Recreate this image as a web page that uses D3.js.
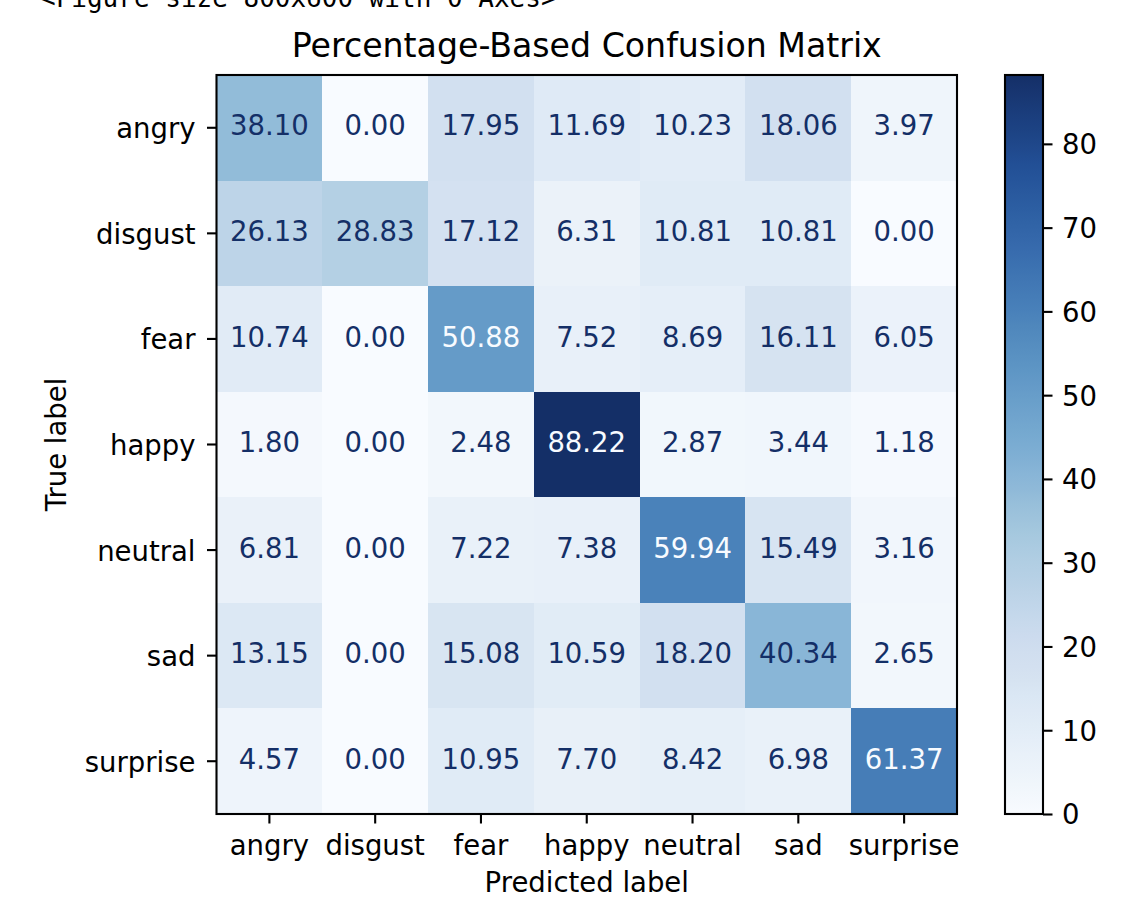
<!DOCTYPE html>
<html>
<head>
<meta charset="utf-8">
<script src="https://cdn.jsdelivr.net/npm/d3@7"></script>
<style>
  html, body { margin: 0; padding: 0; background: #fff; }
  svg { display: block; font-family: "DejaVu Sans", sans-serif; }
</style>
</head>
<body>
<script>
// classes, in the order they appear on both axes
const labels = ["angry", "disgust", "fear", "happy", "neutral", "sad", "surprise"];

// rows = true label, columns = predicted label (percent)
const angry    = [38.10,  0.00, 17.95, 11.69, 10.23, 18.06,  3.97];
const disgust  = [26.13, 28.83, 17.12,  6.31, 10.81, 10.81,  0.00];
const fear     = [10.74,  0.00, 50.88,  7.52,  8.69, 16.11,  6.05];
const happy    = [ 1.80,  0.00,  2.48, 88.22,  2.87,  3.44,  1.18];
const neutral  = [ 6.81,  0.00,  7.22,  7.38, 59.94, 15.49,  3.16];
const sad      = [13.15,  0.00, 15.08, 10.59, 18.20, 40.34,  2.65];
const surprise = [ 4.57,  0.00, 10.95,  7.70,  8.42,  6.98, 61.37];

const colorbarTicks = [0, 10, 20, 30, 40, 50, 60, 70, 80];

// matplotlib "Blues" anchors (linear segmented)
const blues = ["#f7fbff", "#deebf7", "#c6dbef", "#9ecae1", "#6baed6",
               "#4292c6", "#2171b5", "#08519c", "#08306b"];

const matrix = [angry, disgust, fear, happy, neutral, sad, surprise];

const width = 1132, height = 920;
const margin = { top: 75, left: 216.5, right: 957, bottom: 814 };
const fs = 27.5;

// the reference screenshot went through a colour-profile shift (sRGB values
// re-encoded as Display P3), which mutes the colours a little; mimic that
function shift(c) {
  const rgb = d3.rgb(c);
  const lin = v => { v /= 255; return v <= 0.04045 ? v / 12.92 : Math.pow((v + 0.055) / 1.055, 2.4); };
  const enc = v => 255 * (v <= 0.0031308 ? 12.92 * v : 1.055 * Math.pow(v, 1 / 2.4) - 0.055);
  const r = lin(rgb.r), g = lin(rgb.g), b = lin(rgb.b);
  return d3.rgb(
    enc(0.8225 * r + 0.1774 * g),
    enc(0.0332 * r + 0.9669 * g),
    enc(0.0171 * r + 0.0724 * g + 0.9108 * b)
  ).formatHex();
}

const cells = [];
matrix.forEach((row, i) => row.forEach((v, j) => cells.push({ t: labels[i], p: labels[j], v })));

const vmin = d3.min(cells, d => d.v);
const vmax = d3.max(cells, d => d.v);

const cmapRaw = d3.scaleLinear()
  .domain(blues.map((_, i) => i / (blues.length - 1)))
  .range(blues)
  .interpolate(d3.interpolateRgb)
  .clamp(true);
const cmap = t => shift(cmapRaw(t));
const color = v => cmap((v - vmin) / (vmax - vmin));

const x = d3.scaleBand().domain(labels).range([margin.left, margin.right]);
const y = d3.scaleBand().domain(labels).range([margin.top, margin.bottom]);

const svg = d3.select("body").append("svg")
  .attr("width", width)
  .attr("height", height);

// the stray notebook output line cut off at the top
svg.append("text")
  .attr("x", 40)
  .attr("y", 7)
  .attr("font-family", "DejaVu Sans Mono, monospace")
  .attr("font-size", 26)
  .attr("fill", "#000")
  .text("<Figure size 800x600 with 0 Axes>");

// heatmap
svg.append("g")
  .attr("shape-rendering", "crispEdges")
  .selectAll("rect")
  .data(cells)
  .join("rect")
  .attr("x", d => x(d.p))
  .attr("y", d => y(d.t))
  .attr("width", x.bandwidth() + 0.5)
  .attr("height", y.bandwidth() + 0.5)
  .attr("fill", d => color(d.v));

const thresh = (vmax + vmin) / 2;
svg.append("g")
  .attr("font-size", fs)
  .attr("text-anchor", "middle")
  .selectAll("text")
  .data(cells)
  .join("text")
  .attr("x", d => x(d.p) + x.bandwidth() / 2)
  .attr("y", d => y(d.t) + y.bandwidth() / 2)
  .attr("dy", "0.28em")
  .attr("fill", d => d.v < thresh ? cmap(1) : cmap(0))
  .text(d => d.v.toFixed(2));

// axes
const xAxis = svg.append("g")
  .attr("transform", `translate(0,${margin.bottom})`)
  .call(d3.axisBottom(x).tickSize(9.5).tickPadding(9.5));
const yAxis = svg.append("g")
  .attr("transform", `translate(${margin.left},0)`)
  .call(d3.axisLeft(y).tickSize(9.5).tickPadding(11.5));

[xAxis, yAxis].forEach(g => {
  g.select(".domain").remove();
  g.selectAll(".tick line").attr("stroke", "#000").attr("stroke-width", 2.1);
  g.selectAll(".tick text")
    .attr("font-size", fs)
    .attr("font-family", "DejaVu Sans, sans-serif")
    .attr("fill", "#000");
});
xAxis.selectAll(".tick text").attr("dy", "0.8em");
yAxis.selectAll(".tick text").attr("dy", "0.38em");

svg.append("rect")
  .attr("x", margin.left)
  .attr("y", margin.top)
  .attr("width", margin.right - margin.left)
  .attr("height", margin.bottom - margin.top)
  .attr("fill", "none")
  .attr("stroke", "#000")
  .attr("stroke-width", 2.1);

// title and axis labels
svg.append("text")
  .attr("x", (margin.left + margin.right) / 2)
  .attr("y", 57)
  .attr("text-anchor", "middle")
  .attr("font-size", 33.2)
  .attr("fill", "#000")
  .text("Percentage-Based Confusion Matrix");

svg.append("text")
  .attr("x", (margin.left + margin.right) / 2)
  .attr("y", 892)
  .attr("text-anchor", "middle")
  .attr("font-size", fs)
  .attr("fill", "#000")
  .text("Predicted label");

svg.append("text")
  .attr("transform", `translate(66,${(margin.top + margin.bottom) / 2}) rotate(-90)`)
  .attr("text-anchor", "middle")
  .attr("font-size", fs)
  .attr("fill", "#000")
  .text("True label");

// colorbar
const cb = { x: 1005, w: 38 };
const cy = d3.scaleLinear().domain([vmin, vmax]).range([margin.bottom, margin.top]);

const grad = svg.append("defs").append("linearGradient")
  .attr("id", "cbgrad")
  .attr("x1", 0).attr("y1", 1)
  .attr("x2", 0).attr("y2", 0);
grad.selectAll("stop")
  .data(d3.range(0, 1.0001, 0.02))
  .join("stop")
  .attr("offset", d => d)
  .attr("stop-color", d => cmap(d));

svg.append("rect")
  .attr("x", cb.x)
  .attr("y", margin.top)
  .attr("width", cb.w)
  .attr("height", margin.bottom - margin.top)
  .attr("fill", "url(#cbgrad)")
  .attr("stroke", "#000")
  .attr("stroke-width", 2.1);

const cAxis = svg.append("g")
  .attr("transform", `translate(${cb.x + cb.w},0)`)
  .call(d3.axisRight(cy).tickValues(colorbarTicks).tickSize(9.5).tickPadding(9.5));
cAxis.select(".domain").remove();
cAxis.selectAll(".tick line").attr("stroke", "#000").attr("stroke-width", 2.1);
cAxis.selectAll(".tick text")
  .attr("font-size", fs)
  .attr("font-family", "DejaVu Sans, sans-serif")
  .attr("fill", "#000")
  .attr("dy", "0.36em");
</script>
</body>
</html>
